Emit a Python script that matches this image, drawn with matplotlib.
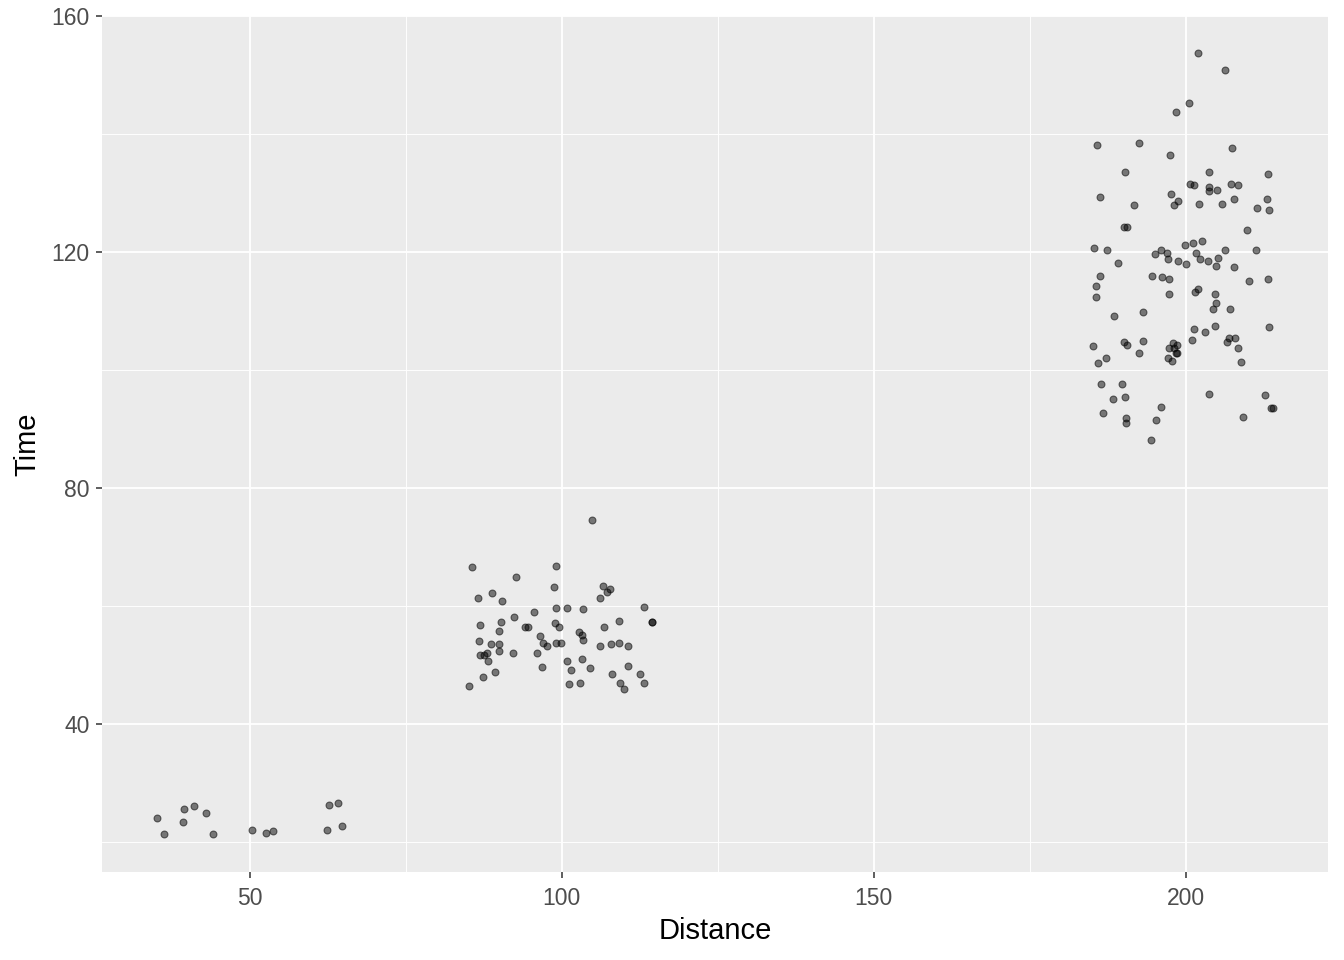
import matplotlib
matplotlib.use("Agg")
import matplotlib.pyplot as plt
import numpy as np

# Short distance cluster
dist_short = [35.1, 36.3, 39.5, 41.1, 43.0, 39.3, 44.1, 50.4, 52.6, 53.7, 62.7, 64.2, 62.4, 64.8]
time_short = [24.0, 21.3, 25.5, 26.1, 24.9, 23.3, 21.3, 22.0, 21.5, 21.8, 26.2, 26.6, 22.0, 22.7]

# Middle distance cluster
dist_mid = [104.9, 85.6, 99.1, 92.7, 98.8, 106.6, 107.7, 107.3, 106.1, 86.6,
            88.8, 90.4, 113.2, 99.1, 100.9, 103.4, 95.6, 92.4, 90.3, 86.9,
            98.9, 99.6, 94.1, 94.6, 90.0, 109.2, 106.8, 114.4, 114.5, 102.8,
            103.3, 103.4, 96.5, 97.0, 97.7, 99.1, 99.9, 86.8, 88.7, 90.0,
            90.0, 86.9, 87.6, 88.0, 88.2, 92.1, 96.0, 106.1, 107.9, 109.2,
            110.6, 100.9, 103.3, 101.5, 104.5, 96.8, 89.3, 87.4, 85.2, 108.1,
            110.6, 112.6, 101.2, 102.9, 109.3, 113.2, 110.0]
time_mid = [74.5, 66.6, 66.7, 64.9, 63.2, 63.3, 62.9, 62.3, 61.3, 61.3,
            62.2, 60.8, 59.9, 59.6, 59.6, 59.4, 58.9, 58.2, 57.2, 56.7,
            57.1, 56.4, 56.4, 56.4, 55.7, 57.4, 56.4, 57.2, 57.2, 55.5,
            55.0, 54.2, 54.9, 53.8, 53.2, 53.8, 53.8, 54.0, 53.5, 53.5,
            52.3, 51.6, 51.6, 52.0, 50.6, 52.0, 52.0, 53.2, 53.5, 53.7,
            53.2, 50.6, 51.0, 49.1, 49.4, 49.6, 48.8, 47.9, 46.4, 48.4,
            49.9, 48.4, 46.7, 46.9, 46.9, 46.9, 45.9]

# Long distance cluster
dist_long = [202.0, 206.3, 200.5, 198.4, 185.8, 192.5, 207.4, 197.5, 190.3, 203.7,
             213.2, 200.7, 201.3, 203.7, 203.7, 205.0, 207.3, 208.4, 186.3, 197.6,
             198.8, 198.1, 191.7, 202.1, 205.8, 207.7, 213.0, 211.4, 213.3, 190.1,
             190.6, 209.8,
             185.3, 187.4, 199.9, 201.2, 202.6, 196.0, 195.1, 197.0, 197.2, 201.7,
             198.8, 200.1, 202.3, 203.6, 205.2, 206.3, 204.9, 207.7, 211.3, 189.2,
             186.3, 185.6, 185.6, 194.6, 196.2, 197.3, 210.1, 213.2, 197.3, 202.0,
             201.5, 204.7, 204.9, 204.4, 207.1, 193.2, 188.5, 201.3, 203.1, 204.7,
             213.3, 201.0, 206.9, 207.9, 206.6, 208.4, 208.9, 185.2, 190.1, 190.6,
             193.2, 192.5, 187.2, 186.0, 198.0, 198.6, 197.3, 198.1, 198.5, 198.6,
             197.2, 197.8, 186.4, 189.8, 188.4, 190.3, 186.8, 190.4, 190.4, 196.0,
             195.2, 194.4, 203.7, 212.7, 213.7, 214.0, 209.2]
time_long = [153.7, 150.8, 145.2, 143.8, 138.2, 138.4, 137.7, 136.4, 133.5, 133.5,
             133.2, 131.5, 131.3, 131.0, 130.3, 130.5, 131.6, 131.3, 129.4, 129.9,
             128.6, 127.9, 127.9, 128.2, 128.1, 128.9, 128.9, 127.4, 127.1, 124.2,
             124.2, 123.7,
             120.6, 120.3, 121.1, 121.6, 121.8, 120.3, 119.6, 119.9, 118.8, 119.9,
             118.4, 117.9, 118.8, 118.4, 118.9, 120.3, 117.7, 117.4, 120.3, 118.1,
             116.0, 114.2, 112.3, 115.9, 115.7, 115.4, 115.0, 115.5, 112.8, 113.8,
             113.2, 112.8, 111.3, 110.3, 110.3, 109.9, 109.1, 106.9, 106.4, 107.4,
             107.2, 105.0, 105.5, 105.5, 104.7, 103.7, 101.3, 104.0, 104.7, 104.3,
             104.9, 102.8, 102.1, 101.1, 104.5, 104.3, 103.7, 103.7, 102.8, 102.8,
             102.1, 101.6, 97.6, 97.7, 95.0, 95.5, 92.7, 91.8, 91.0, 93.8,
             91.6, 88.1, 96.0, 95.7, 93.5, 93.5, 92.1]

x_ticks = [50, 100, 150, 200]
y_ticks = [40, 80, 120, 160]
x_minor = [75, 125, 175]
y_minor = [20, 60, 100, 140]
x_limits = [26.3, 222.8]
y_limits = [14.9, 160.0]

x = np.array(dist_short + dist_mid + dist_long)
y = np.array(time_short + time_mid + time_long)

plt.rcParams['font.family'] = ['Liberation Sans', 'DejaVu Sans']

fig = plt.figure(figsize=(13.44, 9.6), dpi=100)
ax = fig.add_axes([102/1344, 1 - 872/960, (1328-102)/1344, (872-16)/960])
ax.set_facecolor('#EBEBEB')

ax.scatter(x, y, s=25, c=[(0, 0, 0, 0.5)], edgecolors=[(0, 0, 0, 0.55)],
           linewidths=0.75, zorder=3, clip_on=False)

ax.set_xlim(*x_limits)
ax.set_ylim(*y_limits)

ax.set_xticks(x_ticks)
ax.set_yticks(y_ticks)
ax.set_xticks(x_minor, minor=True)
ax.set_yticks(y_minor, minor=True)
ax.grid(which='major', color='white', linewidth=1.3, zorder=0)
ax.grid(which='minor', color='white', linewidth=0.65, zorder=0)
ax.set_axisbelow(True)
for s in ax.spines.values():
    s.set_visible(False)
ax.tick_params(which='major', length=4, width=1.1, color='#333333',
               labelsize=16.5, labelcolor='#4D4D4D')
ax.tick_params(axis='x', which='major', pad=7)
ax.tick_params(axis='y', which='major', pad=5)
ax.tick_params(which='minor', length=0)

ax.set_xlabel('Distance', fontsize=21, color='black', labelpad=5)
ax.set_ylabel('Time', fontsize=21, color='black', labelpad=7)

fig.savefig('out.png', dpi=100)
